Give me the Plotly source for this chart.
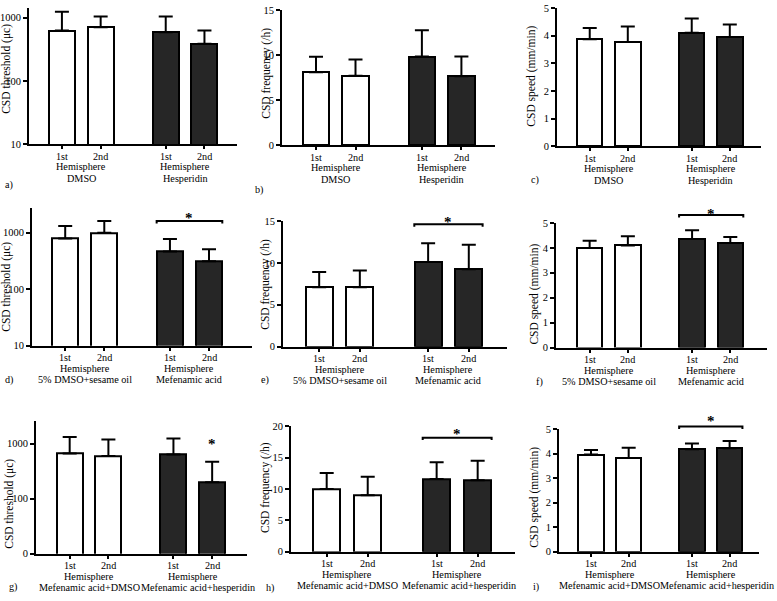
import plotly.graph_objects as go

W, H = 777, 601

# ---------------- data ----------------
bar_labels = ["1st", "2nd", "1st", "2nd"]
hemisphere = "Hemisphere"
groups_row1 = ["DMSO", "Hesperidin"]
groups_row2 = ["5% DMSO+sesame oil", "Mefenamic acid"]
groups_row3 = ["Mefenamic acid+DMSO", "Mefenamic acid+hesperidin"]

ylabel_threshold = "CSD threshold (μc)"
ylabel_frequency = "CSD frequency (/h)"
ylabel_speed = "CSD speed (mm/min)"

a_mean = [630, 710, 590, 390]
a_sd = [620, 340, 460, 240]
b_mean = [8.1, 7.7, 9.85, 7.65]
b_sd = [1.7, 1.8, 2.9, 2.2]
c_mean = [3.87, 3.77, 4.1, 3.95]
c_sd = [0.41, 0.56, 0.52, 0.45]
d_mean = [785, 990, 460, 310]
d_sd = [525, 610, 310, 195]
e_mean = [7.1, 7.1, 10.1, 9.25]
e_sd = [1.8, 2.0, 2.25, 2.9]
f_mean = [3.99, 4.1, 4.36, 4.2]
f_sd = [0.3, 0.37, 0.35, 0.24]
g_mean = [663, 595, 635, 198]
g_sd = [657, 585, 595, 272]
h_mean = [10.0, 9.0, 11.6, 11.4]
h_sd = [2.55, 2.95, 2.65, 3.1]
i_mean = [3.96, 3.82, 4.18, 4.22]
i_sd = [0.19, 0.42, 0.23, 0.29]

x_pos = [0, 1, 2.68, 3.68]
bar_colors = ["white", "white", "#262626", "#262626"]

FONT = "Liberation Serif"
LAB_SIZE = 10.2

def px(x):
    return x / W

def py(y):
    return 1 - y / H

# layout spec per panel (pixel geometry)
panels = [
    dict(letter="a)", mean=a_mean, sd=a_sd, groups=groups_row1, ylab=ylabel_threshold,
         x0=29, x1=237, yt=3, yb=142, log=True, yr=[1, 3.155], xr=[-0.85, 4.52],
         tickvals=[10, 100, 1000], ticktext=["10", "100", "1000"],
         lab=(3, 183), ttl=(7, 65), bracket=None, star=None, gshift=0),
    dict(letter="b)", mean=b_mean, sd=b_sd, groups=groups_row1, ylab=ylabel_frequency,
         x0=282, x1=495, yt=5, yb=143, log=False, yr=[0, 15], xr=[-0.86, 4.53], dtick=5,
         lab=(253, 188), ttl=(267, 70), bracket=None, star=None, gshift=0),
    dict(letter="c)", mean=c_mean, sd=c_sd, groups=groups_row1, ylab=ylabel_speed,
         x0=557, x1=761, yt=3, yb=144, log=False, yr=[0, 5], xr=[-0.86, 4.50], dtick=1,
         lab=(529, 178), ttl=(532, 73), bracket=None, star=None, gshift=0),
    dict(letter="d)", mean=d_mean, sd=d_sd, groups=groups_row2, ylab=ylabel_threshold,
         x0=32, x1=252, yt=207, yb=347, log=True, yr=[1, 3.43], xr=[-0.85, 4.78],
         tickvals=[10, 100, 1000], ticktext=["10", "100", "1000"],
         lab=(3, 382), ttl=(7, 287), bracket=220, star=213, gshift=0),
    dict(letter="e)", mean=e_mean, sd=e_sd, groups=groups_row2, ylab=ylabel_frequency,
         x0=283, x1=507, yt=220, yb=348, log=False, yr=[0, 15], xr=[-0.89, 4.62], dtick=5,
         lab=(259, 382), ttl=(266, 285), bracket=223.3, star=216.7, gshift=0),
    dict(letter="f)", mean=f_mean, sd=f_sd, groups=groups_row2, ylab=ylabel_speed,
         x0=556, x1=767, yt=222, yb=349, log=False, yr=[0, 5], xr=[-0.88, 4.64], dtick=1,
         lab=(534, 384), ttl=(535, 295), bracket=214, star=209.3, gshift=0),
    dict(letter="g)", mean=g_mean, sd=g_sd, groups=groups_row3, ylab=ylabel_threshold,
         x0=36, x1=247, yt=424, yb=559, log=True, yr=[1, 3.405], xr=[-0.87, 4.58],
         tickvals=[10, 100, 1000], ticktext=["0", "100", "1000"],
         lab=(7, 593), ttl=(10, 508), bracket=None, star=442.7, gshift=5),
    dict(letter="h)", mean=h_mean, sd=h_sd, groups=groups_row3, ylab=ylabel_frequency,
         x0=291, x1=515, yt=429, yb=557, log=False, yr=[0, 20], xr=[-0.87, 4.59], dtick=5,
         lab=(264, 594), ttl=(266, 492), bracket=440.7, star=433.3, gshift=2),
    dict(letter="i)", mean=i_mean, sd=i_sd, groups=groups_row3, ylab=ylabel_speed,
         x0=559, x1=759, yt=432, yb=557, log=False, yr=[0, 5], xr=[-0.85, 4.46], dtick=1,
         lab=(531, 593), ttl=(535, 502), bracket=429.3, star=420, gshift=6),
]

fig = go.Figure()
layout = dict(
    width=W, height=H, margin=dict(l=0, r=0, t=0, b=0),
    paper_bgcolor="white", plot_bgcolor="white", showlegend=False,
    font=dict(family=FONT, size=LAB_SIZE, color="black"),
    bargap=0,
)
annotations = []
shapes = []

for k, p in enumerate(panels):
    n = k + 1
    xa = "x" if n == 1 else f"x{n}"
    ya = "y" if n == 1 else f"y{n}"
    xkey = "xaxis" if n == 1 else f"xaxis{n}"
    ykey = "yaxis" if n == 1 else f"yaxis{n}"

    fig.add_trace(go.Bar(
        x=x_pos, y=p["mean"], width=0.67, xaxis=xa, yaxis=ya,
        marker=dict(color=bar_colors, line=dict(color="black", width=2)),
        error_y=dict(type="data", array=p["sd"], arrayminus=[0] * 4, symmetric=False,
                     color="black", thickness=2, width=7),
        hoverinfo="skip",
    ))

    layout[xkey] = dict(
        domain=[px(p["x0"]), px(p["x1"])], anchor=ya, range=p["xr"],
        showline=True, linecolor="black", linewidth=2,
        ticks="outside", ticklen=3, tickwidth=1.5, tickcolor="black",
        tickvals=x_pos, showticklabels=False, showgrid=False, zeroline=False,
        fixedrange=True,
    )
    ydict = dict(
        domain=[py(p["yb"]), py(p["yt"])], anchor=xa,
        showline=True, linecolor="black", linewidth=2,
        ticks="outside", ticklen=4, tickwidth=1.5, tickcolor="black",
        showgrid=False, zeroline=False, tickfont=dict(family=FONT, size=10.5),
        fixedrange=True,
    )
    if p["log"]:
        ydict.update(type="log", range=p["yr"], tickvals=p["tickvals"], ticktext=p["ticktext"])
    else:
        ydict.update(range=p["yr"], dtick=p["dtick"], tick0=0)
    layout[ykey] = ydict

    ydom = f"{ya} domain"
    span = p["yb"] - p["yt"]

    def dom(ypx):
        return (p["yb"] - ypx) / span

    # category tick labels
    for j, lbl in enumerate(bar_labels):
        annotations.append(dict(x=x_pos[j], xref=xa, y=0, yref=ydom, yanchor="middle",
                                yshift=-12, text=lbl, showarrow=False,
                                font=dict(family=FONT, size=LAB_SIZE)))
    # group labels under each pair
    for gi, center in enumerate([(x_pos[0] + x_pos[1]) / 2, (x_pos[2] + x_pos[3]) / 2]):
        annotations.append(dict(x=center, xref=xa, y=0, yref=ydom, yanchor="middle",
                                yshift=-22.5, text=hemisphere, showarrow=False,
                                font=dict(family=FONT, size=LAB_SIZE)))
        annotations.append(dict(x=center, xref=xa, y=0, yref=ydom, yanchor="middle",
                                yshift=-34, xshift=p["gshift"] if gi == 1 else 0,
                                text=p["groups"][gi], showarrow=False,
                                font=dict(family=FONT, size=LAB_SIZE)))

    # panel letter
    annotations.append(dict(x=px(p["lab"][0]), y=py(p["lab"][1]), xref="paper", yref="paper",
                            xanchor="left", yanchor="middle", text=p["letter"], showarrow=False,
                            font=dict(family=FONT, size=LAB_SIZE)))
    # y axis title
    annotations.append(dict(x=px(p["ttl"][0]), y=py(p["ttl"][1]), xref="paper", yref="paper",
                            xanchor="center", yanchor="middle", text=p["ylab"], textangle=-90,
                            showarrow=False, font=dict(family=FONT, size=11.5)))

    # significance bracket and star
    if p["bracket"] is not None:
        yb_ = dom(p["bracket"])
        yend = dom(p["bracket"] + 2.5)
        xl = x_pos[2] - 0.34
        xr_ = x_pos[3] + 0.34
        shapes.append(dict(type="path", xref=xa, yref=ydom,
                           path=f"M {xl},{yend} L {xl},{yb_} L {xr_},{yb_} L {xr_},{yend}",
                           line=dict(color="black", width=2)))
        sx = (x_pos[2] + x_pos[3]) / 2
    else:
        sx = x_pos[3]
    if p["star"] is not None:
        annotations.append(dict(x=sx, xref=xa, y=dom(p["star"] + 4), yref=ydom,
                                yanchor="middle", text="<b>*</b>", showarrow=False,
                                font=dict(family=FONT, size=15)))

layout["annotations"] = annotations
layout["shapes"] = shapes
fig.update_layout(**layout)

fig.write_html("out.html", config={"displayModeBar": False},
               post_script="document.body.style.margin='0px';")
